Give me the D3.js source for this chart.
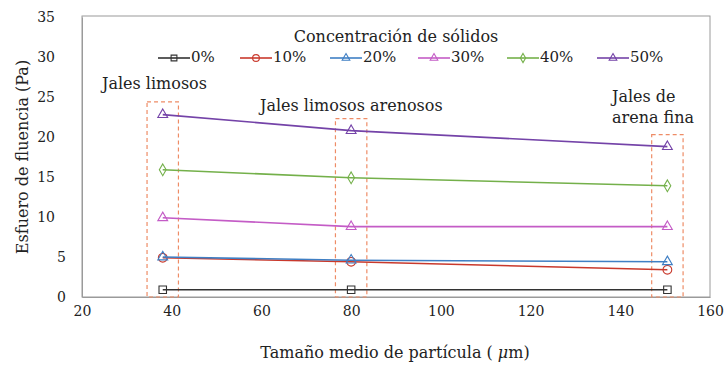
<!DOCTYPE html>
<html><head><meta charset="utf-8">
<script src="https://cdn.jsdelivr.net/npm/d3@7"></script>
<style>
html,body{margin:0;padding:0;background:#fff;}
svg text{font-family:"DejaVu Serif","Liberation Serif",serif;fill:#222;}
</style></head>
<body><svg id="c" width="726" height="365"></svg>
<script>
const xValues = [38, 80, 150.5];
const seriesNames = ["0%", "10%", "20%", "30%", "40%", "50%"];
const values0  = [0.9, 0.9, 0.9];
const values10 = [4.9, 4.4, 3.4];
const values20 = [5.0, 4.6, 4.4];
const values30 = [9.9, 8.8, 8.8];
const values40 = [15.9, 14.9, 13.9];
const values50 = [22.8, 20.8, 18.8];
const seriesColors = ["#333333", "#c9392c", "#3f7fc4", "#c45cc6", "#74b04a", "#7443a8"];
const seriesSymbols = ["square", "circle", "triangle", "triangle", "diamond", "triangle"];
const xTicks = [20, 40, 60, 80, 100, 120, 140, 160];
const yTicks = [0, 5, 10, 15, 20, 25, 30, 35];
const zoneLabels = [["Jales limosos"], ["Jales limosos arenosos"], ["Jales de", "arena fina"]];
const zoneTops = [24.4, 22.3, 20.3];
const zoneHalfWidth = 3.5;

const allValues = [values0, values10, values20, values30, values40, values50];
const svg = d3.select("#c");
const L = 82, R = 710, T = 17, B = 297;
const x = d3.scaleLinear().domain([20, 160]).range([L, R]);
const y = d3.scaleLinear().domain([0, 35]).range([B, T]);

// plot frame
svg.append("rect").attr("x", L).attr("y", T - 1).attr("width", R - L).attr("height", B - T + 1)
  .attr("fill", "none").attr("stroke", "#9a9a9a").attr("stroke-width", 1);

// axes
const xa = svg.append("g").attr("transform", `translate(0,${B})`)
  .call(d3.axisBottom(x).tickValues(xTicks).tickSize(0).tickPadding(9));
xa.select(".domain").attr("stroke", "#9a9a9a");
xa.selectAll("text").attr("font-size", 14).attr("fill", "#222");
const ya = svg.append("g").attr("transform", `translate(${L},0)`)
  .call(d3.axisLeft(y).tickValues(yTicks).tickSize(0).tickPadding(27));
ya.select(".domain").attr("stroke", "#9a9a9a");
ya.selectAll("text").attr("font-size", 14).attr("fill", "#222")
  .attr("dx", d => d < 10 ? 11 : 0);

// zone boxes
xValues.forEach((xv, i) => {
  svg.append("rect")
    .attr("x", x(xv - zoneHalfWidth)).attr("y", y(zoneTops[i]))
    .attr("width", x(xv + zoneHalfWidth) - x(xv - zoneHalfWidth))
    .attr("height", y(0) - y(zoneTops[i]))
    .attr("fill", "none").attr("stroke", "#ee8c66").attr("stroke-width", 1.2)
    .attr("stroke-dasharray", "4,3");
});

// zone labels
const zoneLabelPos = [[102, 89], [260, 111], [612, 102]];
zoneLabels.forEach((lines, i) => {
  const t = svg.append("text").attr("x", zoneLabelPos[i][0]).attr("y", zoneLabelPos[i][1])
    .attr("font-size", 16);
  lines.forEach((ln, j) => t.append("tspan").attr("x", zoneLabelPos[i][0]).attr("dy", j === 0 ? 0 : 21).text(ln));
});

function symbol(g, type, cx, cy, color, scale) {
  const base = type === "square" ? 56 : type === "circle" ? 60 : type === "diamond" ? 40 : 42;
  const st = type === "square" ? d3.symbolSquare : type === "circle" ? d3.symbolCircle : type === "diamond" ? d3.symbolDiamond : d3.symbolTriangle;
  g.append("path").attr("d", d3.symbol().type(st).size(base * scale)())
    .attr("transform", `translate(${cx},${cy})`)
    .attr("fill", "none").attr("stroke", color).attr("stroke-width", 1.1);
}

const line = d3.line().x(d => x(d[0])).y(d => y(d[1]));
allValues.forEach((vals, si) => {
  const g = svg.append("g");
  const pts = xValues.map((xv, i) => [xv, vals[i]]);
  g.append("path").attr("d", line(pts)).attr("fill", "none")
    .attr("stroke", seriesColors[si]).attr("stroke-width", 1.6);
  pts.forEach(p => symbol(g, seriesSymbols[si], x(p[0]), y(p[1]), seriesColors[si], 1));
});

// legend
svg.append("text").attr("x", 396).attr("y", 42).attr("text-anchor", "middle")
  .attr("font-size", 16).text("Concentración de sólidos");
const legX = [158, 240, 330, 418, 507, 597];
seriesNames.forEach((n, i) => {
  const g = svg.append("g");
  const ly = 62;
  g.append("line").attr("x1", legX[i]).attr("x2", legX[i] + 32).attr("y1", ly - 4).attr("y2", ly - 4)
    .attr("stroke", seriesColors[i]).attr("stroke-width", 1.6);
  symbol(g, seriesSymbols[i], legX[i] + 16, ly - 4, seriesColors[i], 0.6);
  g.append("text").attr("x", legX[i] + 33).attr("y", ly).attr("font-size", 15).text(n);
});

// axis titles
svg.append("text").attr("transform", `translate(28,157) rotate(-90)`)
  .attr("text-anchor", "middle").attr("font-size", 16).text("Esfuero de fluencia  (Pa)");
const xt = svg.append("text").attr("x", 395).attr("y", 358).attr("text-anchor", "middle").attr("font-size", 16);
xt.append("tspan").text("Tamaño medio de partícula ( ");
xt.append("tspan").attr("font-style", "italic").text("μ");
xt.append("tspan").text("m)");
</script></body></html>
